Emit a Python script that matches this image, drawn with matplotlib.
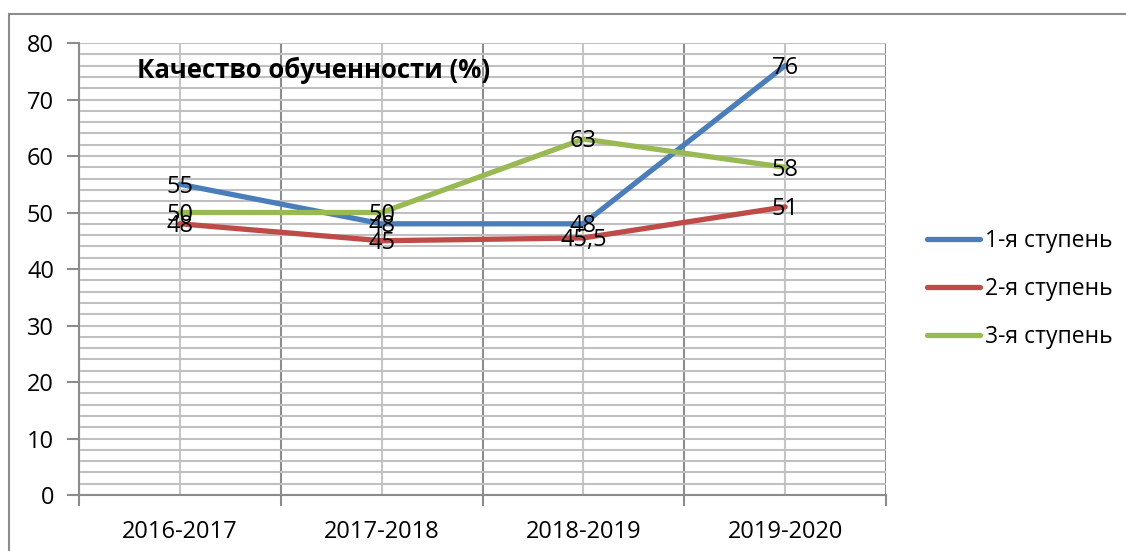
import matplotlib
matplotlib.use("Agg")
import matplotlib.pyplot as plt
from matplotlib.patches import Rectangle
from matplotlib.ticker import MultipleLocator, FixedLocator

plt.rcParams['font.family'] = ['Open Sans', 'DejaVu Sans']

years = ['2016-2017', '2017-2018', '2018-2019', '2019-2020']
stage1 = [55, 48, 48, 76]
stage2 = [48, 45, 45.5, 51]
stage3 = [50, 50, 63, 58]
series_names = ['1-я ступень', '2-я ступень', '3-я ступень']
colors = ['#4A7EBB', '#BE4B48', '#98B954']
title = 'Качество обученности (%)'

fig = plt.figure(figsize=(11.26, 5.51), dpi=100)
ax = fig.add_axes([79 / 1126, 1 - 495 / 551, 807 / 1126, 452 / 551])

# outer chart border (cut by the picture edges)
fig.patches.append(Rectangle((9 / 1126, -0.1), 1.2, 1 - 14 / 551 + 0.1,
                             transform=fig.transFigure, fill=False,
                             edgecolor='#8C8C8C', linewidth=1.5))

x = list(range(len(years)))
ax.set_xlim(-0.5, len(years) - 0.5)
ax.set_ylim(0, 80)

# gridlines
ax.yaxis.set_major_locator(MultipleLocator(10))
ax.yaxis.set_minor_locator(MultipleLocator(2))
ax.xaxis.set_major_locator(FixedLocator(x))
ax.xaxis.set_minor_locator(FixedLocator([i - 0.5 for i in range(len(years) + 1)]))
ax.grid(which='both', axis='y', color='#C0C0C0', linewidth=1.5)
ax.grid(which='major', axis='x', color='#C6C6C6', linewidth=1.5)
ax.grid(which='minor', axis='x', color='#8C8C8C', linewidth=1.5)
ax.set_axisbelow(True)

ax.set_xticks(x)
ax.set_xticklabels(years)
ax.tick_params(axis='x', which='major', length=0, labelsize=17, pad=18)
ax.tick_params(axis='x', which='minor', length=8, width=1.5, color='#8C8C8C')
ax.tick_params(axis='y', which='major', length=9, width=1.5, color='#8C8C8C',
               labelsize=17, pad=9)
ax.tick_params(axis='y', which='minor', length=0)

for side in ['top', 'right']:
    ax.spines[side].set_visible(False)
for side in ['left', 'bottom']:
    ax.spines[side].set_color('#8C8C8C')
    ax.spines[side].set_linewidth(1.5)

handles = []
for vals, name, c in zip([stage1, stage2, stage3], series_names, colors):
    h, = ax.plot(x, vals, color=c, linewidth=3.8, solid_capstyle='round',
                 label=name, zorder=3)
    handles.append(h)

for vals in [stage1, stage2, stage3]:
    for xi, v in zip(x, vals):
        lab = ('%g' % v).replace('.', ',')
        ax.text(xi, v - 0.4, lab, ha='center', va='center', fontsize=17,
                color='black', zorder=4)

ax.text(0.072, 0.94, title, transform=ax.transAxes, fontsize=18.5,
        fontweight='bold', ha='left', va='center')

fig.legend(handles=handles, labels=series_names, loc='center left',
           bbox_to_anchor=(906 / 1126, 1 - 289 / 551), frameon=False,
           fontsize=16.5, handlelength=2.35, handletextpad=0.2, labelspacing=1.05)

fig.savefig('out.png', dpi=100)
